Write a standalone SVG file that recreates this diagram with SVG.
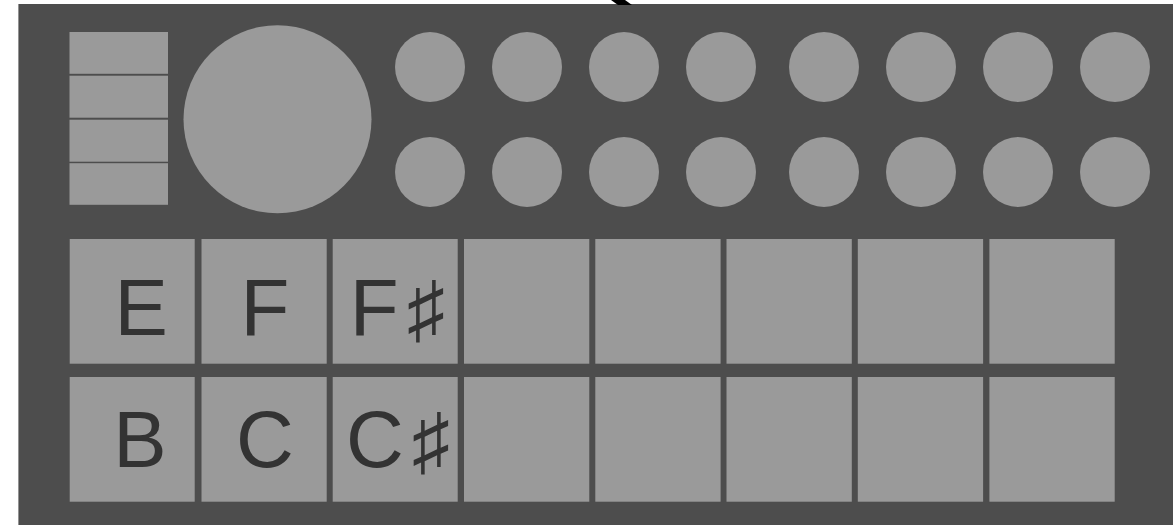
<svg xmlns="http://www.w3.org/2000/svg" width="1173" height="525" viewBox="0 0 1173 525">
<style>
.bg{fill:#4d4d4d}
.sh{fill:#9a9a9a}
.lbl{font-family:"Liberation Sans","DejaVu Sans",sans-serif;font-size:80px;fill:#333333}
.shp{font-family:"DejaVu Sans",sans-serif;font-weight:200;font-size:76px}
</style>
<rect width="1173" height="525" fill="#ffffff"/>
<rect id="panel" class="bg" x="18.4" y="4" width="1154.6" height="521"/>
<polygon id="cable" points="611,0 625,0 632,5 618,5" fill="#000000"/>
<g id="faders">
<rect class="sh" x="69.5" y="32" width="98.5" height="41.8"/>
<rect class="sh" x="69.5" y="75.7" width="98.5" height="42"/>
<rect class="sh" x="69.5" y="119.7" width="98.5" height="42"/>
<rect class="sh" x="69.5" y="163.2" width="98.5" height="41.6"/>
</g>
<g id="big-knob"><circle class="sh" cx="277.5" cy="119.3" r="94"/></g>
<g id="knobs">
<circle class="sh" cx="430" cy="67" r="35"/>
<circle class="sh" cx="527" cy="67" r="35"/>
<circle class="sh" cx="624" cy="67" r="35"/>
<circle class="sh" cx="721" cy="67" r="35"/>
<circle class="sh" cx="824" cy="67" r="35"/>
<circle class="sh" cx="921" cy="67" r="35"/>
<circle class="sh" cx="1018" cy="67" r="35"/>
<circle class="sh" cx="1115" cy="67" r="35"/>
<circle class="sh" cx="430" cy="172" r="35"/>
<circle class="sh" cx="527" cy="172" r="35"/>
<circle class="sh" cx="624" cy="172" r="35"/>
<circle class="sh" cx="721" cy="172" r="35"/>
<circle class="sh" cx="824" cy="172" r="35"/>
<circle class="sh" cx="921" cy="172" r="35"/>
<circle class="sh" cx="1018" cy="172" r="35"/>
<circle class="sh" cx="1115" cy="172" r="35"/>
</g>
<g id="pad-E"><rect class="sh" x="69.7" y="239" width="125" height="124.7"/><text class="lbl" x="114.4" y="334.5">E</text></g>
<g id="pad-F"><rect class="sh" x="201.5" y="239" width="125.2" height="124.7"/><text class="lbl" x="240.4" y="334.5">F</text></g>
<g id="pad-Fs"><rect class="sh" x="332.7" y="239" width="125" height="124.7"/><text class="lbl" x="349.8" y="334.5">F<tspan class="shp" dx="8">♯</tspan></text></g>
<g id="pad-4"><rect class="sh" x="464" y="239" width="125.3" height="124.7"/></g>
<g id="pad-5"><rect class="sh" x="595.3" y="239" width="125.3" height="124.7"/></g>
<g id="pad-6"><rect class="sh" x="726.5" y="239" width="125.3" height="124.7"/></g>
<g id="pad-7"><rect class="sh" x="857.8" y="239" width="125.3" height="124.7"/></g>
<g id="pad-8"><rect class="sh" x="989.4" y="239" width="125.3" height="124.7"/></g>
<g id="pad-B"><rect class="sh" x="69.7" y="377" width="125" height="124.7"/><text class="lbl" x="113.2" y="467">B</text></g>
<g id="pad-C"><rect class="sh" x="201.5" y="377" width="125.2" height="124.7"/><text class="lbl" x="236" y="467">C</text></g>
<g id="pad-Cs"><rect class="sh" x="332.7" y="377" width="125" height="124.7"/><text class="lbl" x="346" y="467">C<tspan class="shp" dx="8">♯</tspan></text></g>
<g id="pad-12"><rect class="sh" x="464" y="377" width="125.3" height="124.7"/></g>
<g id="pad-13"><rect class="sh" x="595.3" y="377" width="125.3" height="124.7"/></g>
<g id="pad-14"><rect class="sh" x="726.5" y="377" width="125.3" height="124.7"/></g>
<g id="pad-15"><rect class="sh" x="857.8" y="377" width="125.3" height="124.7"/></g>
<g id="pad-16"><rect class="sh" x="989.4" y="377" width="125.3" height="124.7"/></g>
</svg>
